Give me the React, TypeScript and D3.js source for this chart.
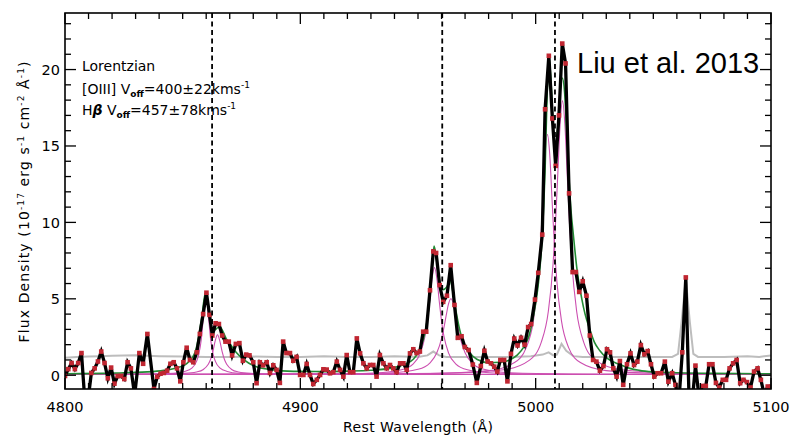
import React from "react";
import * as d3 from "d3";

const X_DOMAIN: [number, number] = [4800, 5100];
const Y_DOMAIN: [number, number] = [-0.9, 23.7];
const X_TICKS = [4800, 4900, 5000, 5100];
const Y_TICKS = [0, 5, 10, 15, 20];
const LINE_CENTERS = [4862.5, 4960.3, 5008.2];

// Observed spectrum [rest wavelength, flux]
const observed: [number, number][] = [
  [4800.0, -0.05], [4801.4, 0.4], [4802.8, 0.8], [4804.2, 0.4], [4805.6, 0.8], [4807.0, 1.45],
  [4808.4, -1.6], [4809.8, -1.6], [4811.2, 0.15], [4812.6, 0.45], [4814.0, 0.9], [4815.4, 1.55],
  [4816.8, 0.8], [4818.2, -0.2], [4819.6, 0.5], [4821.0, -0.55], [4822.4, -0.05], [4823.8, -0.05],
  [4825.2, -0.25], [4826.6, 0.85], [4828.0, 0.45], [4829.6, -1.3], [4831.6, 1.45], [4833.2, 0.75],
  [4835.0, 2.7], [4837.8, -0.9], [4839.2, -0.1], [4840.6, 0.1], [4842.0, 0.15], [4843.4, 0.3],
  [4844.8, 0.75], [4846.2, 0.85], [4847.6, 0.45], [4849.0, -0.4], [4850.3, 0.85], [4851.7, 1.8],
  [4853.1, 1.0], [4854.5, 0.85], [4856.0, 1.5], [4857.3, 2.7], [4858.7, 4.0], [4860.1, 5.4],
  [4861.4, 3.95], [4862.6, 2.6], [4864.0, 3.4], [4865.4, 3.35], [4866.8, 2.6], [4868.2, 2.2],
  [4869.6, 2.2], [4871.0, 1.3], [4872.6, 2.05], [4874.1, 2.1], [4875.6, 0.95], [4877.0, 1.35],
  [4878.4, 1.3], [4880.0, 0.85], [4881.4, -0.52], [4882.8, 0.85], [4884.2, 0.65], [4885.7, 0.85],
  [4887.1, 0.15], [4888.5, 0.65], [4889.9, 0.35], [4891.3, -0.5], [4892.7, 2.2], [4894.1, 1.45],
  [4895.6, 1.45], [4897.0, 0.95], [4898.4, 1.2], [4899.9, 0.02], [4901.3, 0.02], [4902.7, 0.74],
  [4904.1, 0.02], [4905.5, -0.57], [4907.0, -0.3], [4908.4, 0.02], [4909.8, 0.39], [4911.2, 0.37],
  [4912.6, 0.13], [4914.0, 0.2], [4915.5, 0.89], [4916.9, 0.35], [4918.3, -0.09], [4919.7, 1.32],
  [4921.1, 0.2], [4922.5, 0.2], [4924.0, 2.41], [4925.4, 1.43], [4926.8, 0.78], [4928.2, 0.45],
  [4929.6, 0.67], [4931.0, 0.67], [4932.4, -0.09], [4933.8, 1.32], [4935.3, 0.78], [4936.7, 0.45],
  [4938.1, 0.67], [4939.5, 0.45], [4940.9, 0.2], [4942.4, 0.78], [4943.8, 0.78], [4945.2, 0.35],
  [4946.6, 1.43], [4948.0, 1.7], [4949.4, 1.45], [4950.8, 1.55], [4952.2, 2.85], [4953.5, 2.85],
  [4955.1, 5.56], [4956.5, 8.1], [4957.7, 8.0], [4959.2, 5.9], [4960.7, 4.8], [4962.3, 5.2],
  [4963.9, 7.2], [4965.5, 4.6], [4966.9, 2.45], [4968.5, 2.55], [4969.9, 1.85], [4971.5, 1.65],
  [4973.3, 0.7], [4975.0, -0.5], [4976.7, 0.6], [4978.2, 1.6], [4979.6, 0.9], [4981.0, 0.78],
  [4982.4, 0.56], [4983.7, 0.24], [4985.0, 1.0], [4986.6, 1.0], [4988.0, -0.4], [4989.5, 1.4],
  [4990.9, 2.4], [4992.3, 1.95], [4993.8, 2.45], [4995.3, 2.0], [4996.8, 3.15], [4998.1, 3.35],
  [4999.7, 4.95], [5001.1, 6.7], [5002.8, 9.2], [5004.0, 17.4], [5005.6, 20.9], [5007.1, 16.8],
  [5008.5, 13.7], [5009.9, 17.0], [5011.3, 21.7], [5012.7, 20.4], [5014.2, 11.9], [5015.7, 6.75],
  [5017.1, 6.75], [5018.5, 5.45], [5020.0, 6.15], [5021.6, 5.2], [5023.0, 2.6], [5024.4, 1.0],
  [5025.8, 0.89], [5027.3, 0.3], [5028.8, 0.6], [5030.3, 1.7], [5031.6, 1.5], [5033.0, 0.45],
  [5034.4, -0.09], [5035.8, 0.93], [5037.2, -0.63], [5038.8, 0.72], [5040.3, 1.43], [5041.8, 0.67],
  [5043.2, 0.89], [5044.7, 1.97], [5046.2, 1.37], [5047.6, 1.58], [5049.0, 0.72], [5050.4, -0.09],
  [5051.8, 0.13], [5053.3, 0.13], [5054.9, 0.89], [5056.4, -0.42], [5058.0, 0.13], [5059.4, -0.63],
  [5060.9, -1.6], [5062.3, 1.5], [5063.8, 6.4], [5065.2, -1.6], [5066.6, -1.6], [5067.9, 0.63],
  [5069.4, -1.4], [5070.8, -0.7], [5072.3, -0.7], [5073.7, 0.72], [5075.1, 0.72], [5076.6, -0.5],
  [5078.0, -0.8], [5079.5, -0.3], [5080.9, -0.3], [5082.4, 0.45], [5083.9, 0.78], [5085.4, 1.0],
  [5086.9, -0.52], [5088.3, -0.3], [5089.8, -0.45], [5091.3, -0.8], [5092.8, 0.24], [5094.3, 0.45],
  [5095.7, -0.3], [5097.2, -1.3], [5098.6, -0.74], [5100.0, -0.75],
];

// Error spectrum
const errorSpec: [number, number][] = [
  [4800, 1.15], [4805, 1.2], [4810, 1.22], [4815, 1.25], [4820, 1.28], [4830, 1.3], [4840, 1.25],
  [4850, 1.22], [4860, 1.2], [4870, 1.2], [4880, 1.22], [4890, 1.2], [4900, 1.2], [4910, 1.25],
  [4920, 1.2], [4930, 1.2], [4940, 1.25], [4950, 1.2], [4954, 1.3], [4956.5, 1.55], [4959, 1.3],
  [4962, 1.2], [4970, 1.2], [4980, 1.2], [4990, 1.2], [4998, 1.25], [5003, 1.35], [5005.5, 1.5],
  [5007.5, 1.3], [5009, 1.35], [5011, 2.05], [5013, 1.6], [5016, 1.25], [5020, 1.2], [5030, 1.2],
  [5040, 1.2], [5050, 1.2], [5058, 1.2], [5060.5, 1.4], [5062, 3.5], [5063.8, 6.3], [5065.5, 3.5],
  [5067, 1.4], [5069, 1.2], [5080, 1.2], [5090, 1.25], [5095, 1.2], [5100, 1.3],
];

// Total Lorentzian fit
const totalFit: [number, number][] = [
  [4800, 0.1], [4820, 0.14], [4835, 0.22], [4842, 0.32], [4846, 0.42], [4849, 0.55], [4851, 0.68],
  [4853, 0.95], [4854.5, 1.25], [4855.5, 1.6], [4857, 2.7], [4858.3, 4.0], [4859.6, 5.35],
  [4860.5, 5.0], [4861.5, 3.7], [4862.5, 3.0], [4863.5, 2.95], [4864.8, 3.1], [4866, 3.15],
  [4867, 2.9], [4868.5, 2.4], [4870.8, 1.9], [4873, 1.45], [4875, 1.15], [4878, 0.8], [4881, 0.58],
  [4885, 0.42], [4890, 0.32], [4900, 0.25], [4910, 0.24], [4920, 0.27], [4930, 0.33], [4938, 0.45],
  [4944, 0.7], [4948, 1.05], [4951, 1.75], [4953, 2.8], [4954.5, 4.3], [4955.8, 6.6], [4956.8, 8.45],
  [4957.8, 7.7], [4959, 6.2], [4960.7, 5.6], [4962.3, 5.8], [4963.6, 6.2], [4965, 5.3], [4966.5, 3.9],
  [4968, 2.8], [4969.5, 2.05], [4972, 1.45], [4975, 1.05], [4980, 0.82], [4985, 0.85], [4989, 1.0],
  [4992, 1.3], [4995, 1.85], [4997, 2.5], [4999, 3.8], [5001, 5.8], [5002.6, 8.6], [5004, 13.4],
  [5004.8, 18.0], [5005.7, 20.75], [5006.6, 19.0], [5007.5, 16.0], [5008.2, 14.9], [5009.2, 15.9],
  [5010.3, 18.4], [5011.3, 19.45], [5012.3, 18.5], [5013.5, 14.8], [5015, 10.8], [5016, 9.2],
  [5017.5, 7.0], [5019.6, 5.0], [5021, 4.0], [5023, 3.0], [5025, 2.15], [5027.3, 1.6], [5030, 1.15],
  [5035.8, 0.7], [5040, 0.45], [5044, 0.32], [5050, 0.22], [5060, 0.16], [5075, 0.12], [5100, 0.1],
];

// Individual Lorentzian components
const compHbA: [number, number][] = [
  [4800, 0.05], [4835, 0.08], [4846, 0.13], [4850.9, 0.25], [4853.9, 0.47], [4855.9, 0.91],
  [4856.9, 1.4], [4857.9, 2.33], [4858.9, 3.95], [4859.9, 5.15], [4860.9, 3.95], [4861.9, 2.33],
  [4862.9, 1.4], [4863.9, 0.91], [4865.9, 0.47], [4868.9, 0.25], [4873.9, 0.13], [4885, 0.08],
  [4910, 0.06], [5100, 0.05],
];
const compHbB: [number, number][] = [
  [4800, 0.05], [4815, 0.055], [4840, 0.07], [4850.8, 0.12], [4855.8, 0.21], [4858.8, 0.38],
  [4860.8, 0.7], [4861.8, 1.01], [4862.8, 1.53], [4863.8, 2.23], [4864.8, 2.65], [4865.8, 2.23],
  [4866.8, 1.53], [4867.8, 1.01], [4868.8, 0.7], [4870.8, 0.38], [4873.8, 0.21], [4878.8, 0.12],
  [4890, 0.07], [4915, 0.055], [5100, 0.05],
];
const compO1A: [number, number][] = [
  [4800, 0.05], [4857, 0.056], [4907, 0.075], [4932, 0.15], [4943, 0.36], [4948, 0.75], [4951, 1.45],
  [4953, 2.57], [4954, 3.55], [4955, 4.89], [4956, 6.35], [4957, 7.05], [4958, 6.35], [4959, 4.89],
  [4960, 3.55], [4961, 2.57], [4963, 1.45], [4966, 0.75], [4971, 0.36], [4982, 0.15], [5007, 0.075],
  [5057, 0.056], [5100, 0.05],
];
const compO1B: [number, number][] = [
  [4800, 0.05], [4864, 0.056], [4914, 0.08], [4939, 0.16], [4950, 0.39], [4955, 0.8], [4958, 1.47],
  [4960, 2.4], [4961, 3.1], [4962, 3.93], [4963, 4.68], [4964, 5.0], [4965, 4.68], [4966, 3.93],
  [4967, 3.1], [4968, 2.4], [4970, 1.47], [4973, 0.8], [4978, 0.39], [4989, 0.16], [5014, 0.08],
  [5064, 0.056], [5100, 0.05],
];
const compO2A: [number, number][] = [
  [4800, 0.054], [4905, 0.07], [4955, 0.11], [4980, 0.3], [4991, 0.83], [4996, 1.81], [4999, 3.52],
  [5001, 6.17], [5002, 8.4], [5003, 11.35], [5004, 14.4], [5005, 15.75], [5006, 14.4], [5007, 11.35],
  [5008, 8.4], [5009, 6.17], [5011, 3.52], [5014, 1.81], [5019, 0.83], [5030, 0.3], [5055, 0.11],
  [5100, 0.08],
];
const compO2B: [number, number][] = [
  [4800, 0.055], [4911.4, 0.07], [4961.4, 0.13], [4986.4, 0.36], [4997.4, 0.99], [5002.4, 2.17],
  [5005.4, 4.2], [5007.4, 7.3], [5008.4, 9.85], [5009.4, 13.15], [5010.4, 16.45], [5011.4, 17.95],
  [5012.4, 16.45], [5013.4, 13.15], [5014.4, 9.85], [5015.4, 7.3], [5017.4, 4.2], [5020.4, 2.17],
  [5025.4, 0.99], [5036.4, 0.36], [5061.4, 0.13], [5100, 0.08],
];
const components = [compHbA, compHbB, compO1A, compO1B, compO2A, compO2B];

const FONT = "DejaVu Sans";

export default function App() {
  const L = 65, R = 771, T = 13, B = 389;
  const x = d3.scaleLinear().domain(X_DOMAIN).range([L, R]);
  const y = d3.scaleLinear().domain(Y_DOMAIN).range([B, T]);
  const lin = d3.line<[number, number]>().x((d) => x(d[0])).y((d) => y(d[1]));
  const smooth = d3
    .line<[number, number]>()
    .x((d) => x(d[0]))
    .y((d) => y(d[1]))
    .curve(d3.curveMonotoneX);

  const xMinor = d3.range(X_DOMAIN[0], X_DOMAIN[1] + 1, 10);
  const yMinor = d3.range(Math.ceil(Y_DOMAIN[0]), Math.floor(Y_DOMAIN[1]) + 1, 1);

  const tickEls: React.ReactNode[] = [];
  xMinor.forEach((v) => {
    const len = v % 100 === 0 ? 11 : 6;
    const px = x(v);
    tickEls.push(<line key={"xb" + v} x1={px} x2={px} y1={B} y2={B - len} />);
    tickEls.push(<line key={"xt" + v} x1={px} x2={px} y1={T} y2={T + len} />);
  });
  yMinor.forEach((v) => {
    const len = v % 5 === 0 ? 11 : 6;
    const py = y(v);
    tickEls.push(<line key={"yl" + v} x1={L} x2={L + len} y1={py} y2={py} />);
    tickEls.push(<line key={"yr" + v} x1={R} x2={R - len} y1={py} y2={py} />);
  });

  return (
    <svg
      width={798}
      height={439}
      viewBox="0 0 798 439"
      style={{ position: "absolute", left: 0, top: 0, background: "#fff" }}
      fontFamily={FONT}
    >
      <defs>
        <clipPath id="plotClip">
          <rect x={L} y={T} width={R - L} height={B - T} />
        </clipPath>
      </defs>
      <rect x={0} y={0} width={798} height={439} fill="#fff" />
      <g clipPath="url(#plotClip)">
        <path d={lin(errorSpec) || ""} fill="none" stroke="#bdbdbd" strokeWidth={2} />
        {components.map((c, i) => (
          <path key={i} d={smooth(c) || ""} fill="none" stroke="#cc4fb0" strokeWidth={1.1} />
        ))}
        <path d={smooth(totalFit) || ""} fill="none" stroke="#228b34" strokeWidth={1.6} />
        <path d={lin(observed) || ""} fill="none" stroke="#000" strokeWidth={3.3} strokeLinejoin="miter" />
        {observed.map((d, i) => (
          <rect key={i} x={x(d[0]) - 2.3} y={y(d[1]) - 2.3} width={4.6} height={4.6} fill="#c02631" />
        ))}
      </g>
      {LINE_CENTERS.map((c) => (
        <line key={c} x1={x(c)} x2={x(c)} y1={T} y2={B} stroke="#000" strokeWidth={1.8} strokeDasharray="5,3.5" />
      ))}
      <g stroke="#000" strokeWidth={1.3}>{tickEls}</g>
      <rect x={L} y={T} width={R - L} height={B - T} fill="none" stroke="#000" strokeWidth={1.6} />
      {X_TICKS.map((v) => (
        <text key={v} x={x(v)} y={411.5} textAnchor="middle" fontSize={14.5} fill="#000">
          {v}
        </text>
      ))}
      {Y_TICKS.map((v) => (
        <text key={v} x={60} y={y(v) + 5.5} textAnchor="end" fontSize={14.5} fill="#000">
          {v}
        </text>
      ))}
      <text x={418} y={432} textAnchor="middle" fontSize={14} textLength={150} lengthAdjust="spacing">
        Rest Wavelength (Å)
      </text>
      <text
        transform="translate(29,202) rotate(-90)"
        textAnchor="middle"
        fontSize={14}
        textLength={281}
        lengthAdjust="spacing"
      >
        Flux Density (10
        <tspan dy={-5} fontSize={9}>-17</tspan>
        <tspan dy={5}> erg s</tspan>
        <tspan dy={-5} fontSize={9}>-1</tspan>
        <tspan dy={5}> cm</tspan>
        <tspan dy={-5} fontSize={9}>-2</tspan>
        <tspan dy={5}> Å</tspan>
        <tspan dy={-5} fontSize={9}>-1</tspan>
        <tspan dy={5}>)</tspan>
      </text>
      <text x={82} y={71} fontSize={14}>Lorentzian</text>
      <text x={82} y={94} fontSize={14}>
        [OIII] V
        <tspan dy={3} fontSize={9} fontWeight="bold">off</tspan>
        <tspan dy={-3}>=400±22kms</tspan>
        <tspan dy={-6} fontSize={9}>-1</tspan>
      </text>
      <text x={82} y={115} fontSize={14}>
        H<tspan fontWeight="bold" fontStyle="italic">β</tspan> V
        <tspan dy={3} fontSize={9} fontWeight="bold">off</tspan>
        <tspan dy={-3}>=457±78kms</tspan>
        <tspan dy={-6} fontSize={9}>-1</tspan>
      </text>
      <text x={577} y={73} fontFamily="Liberation Sans" fontSize={29} fill="#000">
        Liu et al. 2013
      </text>
    </svg>
  );
}
